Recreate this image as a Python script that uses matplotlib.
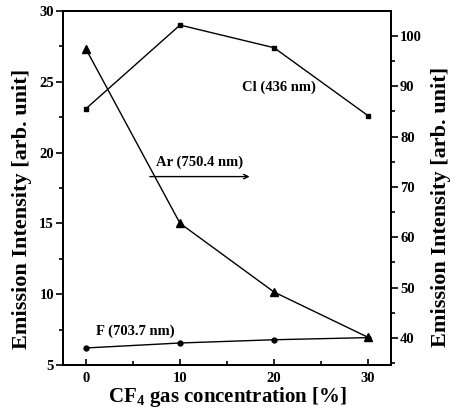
import matplotlib
matplotlib.use("Agg")
import matplotlib.pyplot as plt
from matplotlib.ticker import MultipleLocator

plt.rcParams['font.family'] = ['Liberation Serif', 'DejaVu Serif']
plt.rcParams['font.weight'] = 'bold'
plt.rcParams['mathtext.fontset'] = 'custom'
plt.rcParams['mathtext.rm'] = 'Liberation Serif:bold'
plt.rcParams['mathtext.bf'] = 'Liberation Serif:bold'

conc = [0, 10, 20, 30]
cl_436 = [23.1, 29.0, 27.4, 22.6]
ar_750 = [27.3, 15.0, 10.15, 6.95]
f_703 = [6.2, 6.55, 6.78, 6.93]

left_ticks = [5, 10, 15, 20, 25, 30]
right_ticks = [40, 50, 60, 70, 80, 90, 100]
x_ticks = [0, 10, 20, 30]

fig = plt.figure(figsize=(4.5, 4.19), dpi=100)
ax = fig.add_axes([0.14, 0.129, 0.729, 0.845])

lw = 1.0
ax.plot(conc, cl_436, color='black', lw=lw, marker='s', ms=3.5)
ax.plot(conc, ar_750, color='black', lw=lw, marker='^', ms=6)
ax.plot(conc, f_703, color='black', lw=lw, marker='o', ms=3.5)

ax.set_xlim(-2.45, 32.45)
ax.set_ylim(5, 30)
ax.set_xticks(x_ticks)
ax.set_yticks(left_ticks)
ax.xaxis.set_minor_locator(MultipleLocator(5))
ax.yaxis.set_minor_locator(MultipleLocator(2.5))

tfs = 10.5
ax.tick_params(axis='x', which='both', direction='in', top=False, labelsize=tfs, pad=5, width=1.2)
ax.tick_params(axis='x', which='major', length=4)
ax.tick_params(axis='x', which='minor', length=3)
ax.tick_params(axis='y', which='both', direction='out', right=False, labelsize=tfs, width=1.2, pad=1.5)
ax.tick_params(axis='y', which='major', length=5)
ax.tick_params(axis='y', which='minor', length=3)
for s in ax.spines.values():
    s.set_linewidth(1.4)

ax2 = ax.twinx()
ax2.set_ylim(34.63, 104.97)
ax2.set_yticks(right_ticks)
ax2.yaxis.set_minor_locator(MultipleLocator(5))
ax2.tick_params(axis='y', which='both', direction='out', labelsize=tfs, width=1.2, pad=1.5)
ax2.tick_params(axis='y', which='major', length=5)
ax2.tick_params(axis='y', which='minor', length=3)
for s in ax2.spines.values():
    s.set_linewidth(1.4)

ax.set_xlabel('CF$_4$ gas concentration [%]', fontsize=15, fontweight='bold', labelpad=0)
ax.set_ylabel('Emission Intensity [arb. unit]', fontsize=16, fontweight='bold')
ax2.set_ylabel('Emission Intensity [arb. unit]', fontsize=16, fontweight='bold')
ax.yaxis.set_label_coords(-0.094, 0.44)
ax2.yaxis.set_label_coords(1.122, 0.445)

for lab in ax.get_xticklabels() + ax.get_yticklabels() + ax2.get_yticklabels():
    lab.set_fontweight('bold')

afs = 10.5
ax.text(20.5, 24.6, 'Cl (436 nm)', fontsize=afs, fontweight='bold', ha='center', va='center')
ax.text(12.1, 19.3, 'Ar (750.4 nm)', fontsize=afs, fontweight='bold', ha='center', va='center')
ax.annotate('', xy=(17.7, 18.3), xytext=(6.5, 18.3),
            arrowprops=dict(arrowstyle='->', lw=1.0, color='black', mutation_scale=8))
ax.text(5.2, 7.35, 'F (703.7 nm)', fontsize=afs, fontweight='bold', ha='center', va='center')

fig.savefig('out.png', dpi=100)
